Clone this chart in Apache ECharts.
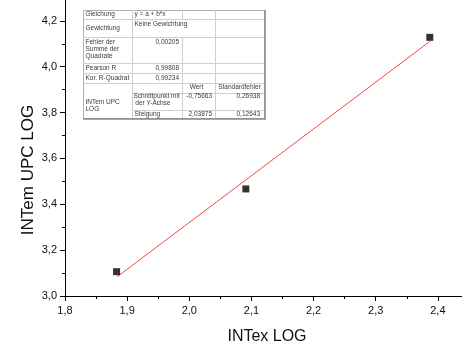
<!DOCTYPE html>
<html>
<head>
<meta charset="utf-8">
<script src="https://cdn.jsdelivr.net/npm/echarts@6/dist/echarts.min.js"></script>
<style>
html,body{margin:0;padding:0;background:#fff}
#chart{width:462px;height:352px}
</style>
</head>
<body>
<div id="chart"></div>
<script>
// Messpunkte
var pointX = [1.883, 2.091, 2.387];
var pointY = [3.106, 3.467, 4.128];
// lineare Anpassung (Endpunkte)
var fitX = [1.884, 2.387];
var fitY = [3.084, 4.110];
// Achsen
var xRange = [1.8, 2.5], xStep = 0.1;
var yRange = [3.0, 4.4], yStep = 0.2;
var xTitle = 'INTex LOG';
var yTitle = 'INTem UPC LOG';
// Ergebnistabelle
var tableTexts = [
  'Gleichung', 'y = a + b*x',
  'Gewichtung', 'Keine Gewichtung',
  'Fehler der\nSumme der\nQuadrate', '0,00205',
  'Pearson R', '0,99808',
  'Kor. R-Quadrat', '0,99234',
  'Wert', 'Standardfehler',
  'INTem UPC\nLOG', 'Schnittpunkt mit\n der Y-Achse', '-0,75663', '0,26938',
  'Steigung', '2,03875', '0,12643'
];

var font = 'Liberation Sans, Arial, sans-serif';
function comma(v){ return v.toFixed(1).replace('.', ','); }

// Tabellenlayout
var C = [83, 132, 182, 215, 264];
var R = [10, 19, 37, 63, 73, 83, 93, 110, 118];
// [x, y, align, verticalAlign]
var cellPos = [
  [C[0]+2.5, 14.5, 'left', 'middle'], [C[1]+2.5, 14.5, 'left', 'middle'],
  [C[0]+2.5, 28.5, 'left', 'middle'], [C[1]+2.5, 24, 'left', 'middle'],
  [C[0]+2.5, 38.5, 'left', 'top'], [C[2]-3, 42.5, 'right', 'middle'],
  [C[0]+2.5, 68, 'left', 'middle'], [C[2]-3, 68, 'right', 'middle'],
  [C[0]+2.5, 78, 'left', 'middle'], [C[2]-3, 78, 'right', 'middle'],
  [(C[2]+C[3])/2 - 2, 87.5, 'center', 'middle'], [(C[3]+C[4])/2, 87.5, 'center', 'middle'],
  [C[0]+2.5, 105.5, 'left', 'middle'], [C[1]+1.5, 92.5, 'left', 'top'], [C[3]-3, 96, 'right', 'middle'], [C[4]-4, 96, 'right', 'middle'],
  [C[1]+2.5, 114.5, 'left', 'middle'], [C[3]-3, 114.5, 'right', 'middle'], [C[4]-4, 114.5, 'right', 'middle']
];

var graphics = [];
graphics.push({type:'rect', shape:{x:C[0]+0.5, y:R[0]+0.5, width:C[4]-C[0], height:R[8]-R[0]},
  style:{fill:'#fff', stroke:'#b0b0b0', lineWidth:1}, z:10});
function seg(x1, y1, x2, y2, col, w){
  graphics.push({type:'line', shape:{x1:x1, y1:y1, x2:x2, y2:y2},
    style:{stroke:col || '#cfcfcf', lineWidth:w || 1}, z:11});
}
for (var i = 1; i < R.length - 1; i++) {
  var from = (R[i] === 93 || R[i] === 110) ? C[1] : C[0];
  seg(from, R[i]+0.5, C[4], R[i]+0.5);
}
seg(C[1]+0.5, R[0], C[1]+0.5, R[8]);
seg(C[2]+0.5, R[0], C[2]+0.5, R[1]);
seg(C[2]+0.5, R[2], C[2]+0.5, R[8]);
seg(C[3]+0.5, R[0], C[3]+0.5, R[8]);
// dunklere Kante rechts und unten
seg(C[4]+1, R[0], C[4]+1, R[8]+1.5, '#8a8a8a', 1.5);
seg(C[0], R[8]+1, C[4]+1.5, R[8]+1, '#8a8a8a', 1.5);
tableTexts.forEach(function(t, k){
  var p = cellPos[k];
  graphics.push({type:'text', x:p[0], y:p[1], z:12,
    style:{text:t, fontSize:6.5, fontFamily:font, fill:'#3a3a3a', align:p[2], verticalAlign:p[3], lineHeight:7.2}});
});
// Achsentitel
graphics.push({type:'text', x:267, y:337, style:{text:xTitle, fontSize:16, fontFamily:font, fill:'#111', align:'center', verticalAlign:'middle'}});
graphics.push({type:'text', x:28, y:170, rotation:Math.PI/2, style:{text:yTitle, fontSize:17, fontFamily:font, fill:'#111', align:'center', verticalAlign:'middle'}});

var chart = echarts.init(document.getElementById('chart'), null, {renderer:'canvas'});
var axisCommon = {
  type: 'value',
  splitLine: {show:false},
  axisLine: {onZero:false, lineStyle:{color:'#000', width:1}},
  axisTick: {length:5, lineStyle:{color:'#000'}},
  minorTick: {show:true, splitNumber:2, length:3, lineStyle:{color:'#000'}},
  axisLabel: {formatter:comma, fontSize:11, fontFamily:font, color:'#111'}
};
var option = {
  animation: false,
  backgroundColor: '#fff',
  grid: {left:65, top:-25, width:435, height:321, containLabel:false, outerBoundsMode:'none'},
  xAxis: echarts.util.merge({min:xRange[0], max:xRange[1], interval:xStep, axisLabel:{margin:9}}, axisCommon),
  yAxis: echarts.util.merge({min:yRange[0], max:yRange[1], interval:yStep, axisLabel:{margin:8}}, axisCommon),
  graphic: graphics,
  series: [
    {
      type: 'line',
      data: fitX.map(function(x, k){ return [x, fitY[k]]; }),
      showSymbol: false,
      lineStyle: {color:'#ff4040', width:1},
      z: 2
    },
    {
      type: 'scatter',
      data: pointX.map(function(x, k){ return [x, pointY[k]]; }),
      symbol: 'rect',
      symbolSize: 7,
      itemStyle: {color:'#000'},
      z: 3
    }
  ]
};
chart.setOption(option);
</script>
</body>
</html>
